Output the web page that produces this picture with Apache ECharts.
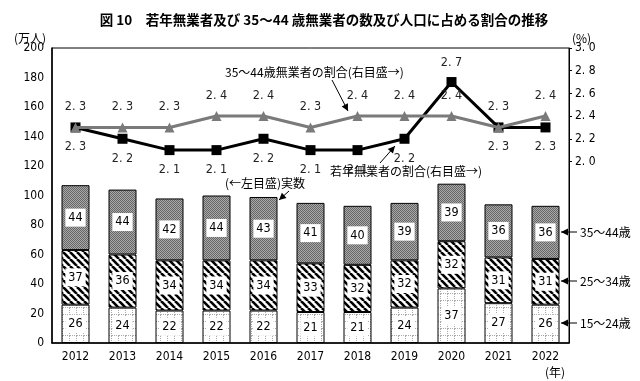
<!DOCTYPE html>
<html><head><meta charset="utf-8">
<script src="https://cdn.jsdelivr.net/npm/echarts@6/dist/echarts.min.js"></script>
<style>html,body{margin:0;padding:0;background:#fff}#c{width:640px;height:381px}</style>
</head><body><div id="c"></div>
<script>
const years = ['2012','2013','2014','2015','2016','2017','2018','2019','2020','2021','2022'];
const age15_24 = [26,24,22,22,22,21,21,24,37,27,26];
const age25_34 = [37,36,34,34,34,33,32,32,32,31,31];
const age35_44 = [44,44,42,44,43,41,40,39,39,36,36];
const youthRate = [2.3,2.2,2.1,2.1,2.2,2.1,2.1,2.2,2.7,2.3,2.3];
const rate35_44 = [2.3,2.3,2.3,2.4,2.4,2.3,2.4,2.4,2.4,2.3,2.4];
const rightTickValues = [2.0,2.2,2.4,2.6,2.8,3.0];

const NUM = '"Liberation Sans Narrow","DejaVu Sans Condensed","Liberation Sans",sans-serif';
const JP = '"Noto Sans CJK JP","Noto Sans CJK SC",sans-serif';

function makeCanvas(w,h,draw){const c=document.createElement('canvas');c.width=w;c.height=h;draw(c.getContext('2d'));return c;}
const topPat = makeCanvas(2,2,g=>{g.fillStyle='#a9a9a9';g.fillRect(0,0,2,2);g.fillStyle='#666';g.fillRect(0,0,1,1);g.fillRect(1,1,1,1);});
const midPat = makeCanvas(7,7,g=>{g.fillStyle='#fff';g.fillRect(0,0,7,7);g.strokeStyle='#000';g.lineWidth=2.6;
  for(const x0 of [-7,0,7]){g.beginPath();g.moveTo(x0,0);g.lineTo(x0+7,7);g.stroke();}});
const botPat = makeCanvas(7,7,g=>{g.fillStyle='#fff';g.fillRect(0,0,7,7);g.fillStyle='#aaa';
  for(let y=0;y<7;y+=2)g.fillRect(6,y,1,1);for(let x=0;x<7;x+=2)g.fillRect(x,6,1,1);});

const barLabel = {show:true,position:'inside',color:'#000',backgroundColor:'#fff',padding:[3,3,2,3],fontSize:12.5,fontFamily:NUM};
function barSeries(name,data,pat){return {name,type:'bar',stack:'n',data,barWidth:28,yAxisIndex:0,
  itemStyle:{color:{image:pat,repeat:'repeat'},borderColor:'#000',borderWidth:1},label:barLabel};}
const fmt = p => p.value.toFixed(1).replace('.', '. ');

const chart = echarts.init(document.getElementById('c'),null,{renderer:'canvas'});
const arrowHead = (x,y,ang,col)=>{const L=7,W=3.5;const c=Math.cos(ang),s=Math.sin(ang);
  return {type:'polygon',shape:{points:[[x,y],[x-L*c+W*s,y-L*s-W*c],[x-L*c-W*s,y-L*s+W*c]]},style:{fill:col}};};
function arrow(x1,y1,x2,y2){const a=Math.atan2(y2-y1,x2-x1);return [
  {type:'line',shape:{x1,y1,x2,y2},style:{stroke:'#000',lineWidth:1}}, arrowHead(x2,y2,a,'#000')];}
const txt=(x,y,t,opt={})=>({type:'text',x,y,style:Object.assign({text:t,fill:'#000',font:'12px '+JP,textVerticalAlign:'middle'},opt)});

chart.setOption({
  animation:false,
  grid:{left:52,right:71,top:48,bottom:38,show:true,borderColor:'#000',borderWidth:1},
  xAxis:{type:'category',data:years,axisLine:{lineStyle:{color:'#000',width:1.5}},axisTick:{show:false},
    axisLabel:{color:'#000',fontSize:12,fontFamily:NUM,margin:8}},
  yAxis:[
    {type:'value',min:0,max:200,interval:20,axisLine:{show:true,lineStyle:{color:'#000',width:1.5}},axisTick:{show:false},
      splitLine:{show:false},axisLabel:{color:'#000',fontSize:12,fontFamily:NUM,margin:8}},
    {type:'value',min:0.4,max:3.0,interval:0.2,position:'right',alignTicks:false,axisLine:{show:true,lineStyle:{color:'#000'}},
      axisTick:{show:true,length:3,customValues:rightTickValues,lineStyle:{color:'#000'}},splitLine:{show:false},
      axisLabel:{color:'#000',fontSize:12,fontFamily:NUM,margin:6,customValues:rightTickValues,formatter:v=>v.toFixed(1).replace('.','. ')}}
  ],
  series:[
    barSeries('15～24歳',age15_24,botPat),
    barSeries('25～34歳',age25_34,midPat),
    barSeries('35～44歳',age35_44,topPat),
    {name:'若年無業者の割合',type:'line',yAxisIndex:1,data:youthRate.map((v,i)=>({value:v,label:{position:i===8?'top':'bottom'}})),
      symbol:'rect',symbolSize:10,lineStyle:{color:'#000',width:3},itemStyle:{color:'#000'},z:3,
      label:{show:true,distance:8,color:'#222',fontSize:12.5,fontFamily:NUM,formatter:fmt}},
    {name:'35～44歳無業者の割合',type:'line',yAxisIndex:1,data:rate35_44,
      symbol:'triangle',symbolSize:10,lineStyle:{color:'#7a7a7a',width:3},itemStyle:{color:'#7a7a7a'},z:4,
      label:{show:true,position:'top',distance:9,color:'#222',fontSize:12.5,fontFamily:NUM,formatter:fmt}}
  ],
  graphic:[
    txt(324,20,'図 10　若年無業者及び 35～44 歳無業者の数及び人口に占める割合の推移',{font:'bold 13.5px '+JP,textAlign:'center'}),
    txt(14,38,'(万人)'),
    txt(572,38,'(%)'),
    txt(545,372,'(年)'),
    txt(225,72,'35～44歳無業者の割合(右目盛→)'),
    ...arrow(332,80,348,111),
    txt(330,171,'若年無業者の割合(右目盛→)'),
    ...arrow(380,163,395,146),
    txt(225,183,'(←左目盛)実数'),
    ...arrow(289,191,279,200),
    ...arrow(577,232,561,232), txt(580,232,'35～44歳'),
    ...arrow(577,281,561,281), txt(580,281,'25～34歳'),
    ...arrow(577,323,561,323), txt(580,323,'15～24歳')
  ]
});
</script></body></html>
